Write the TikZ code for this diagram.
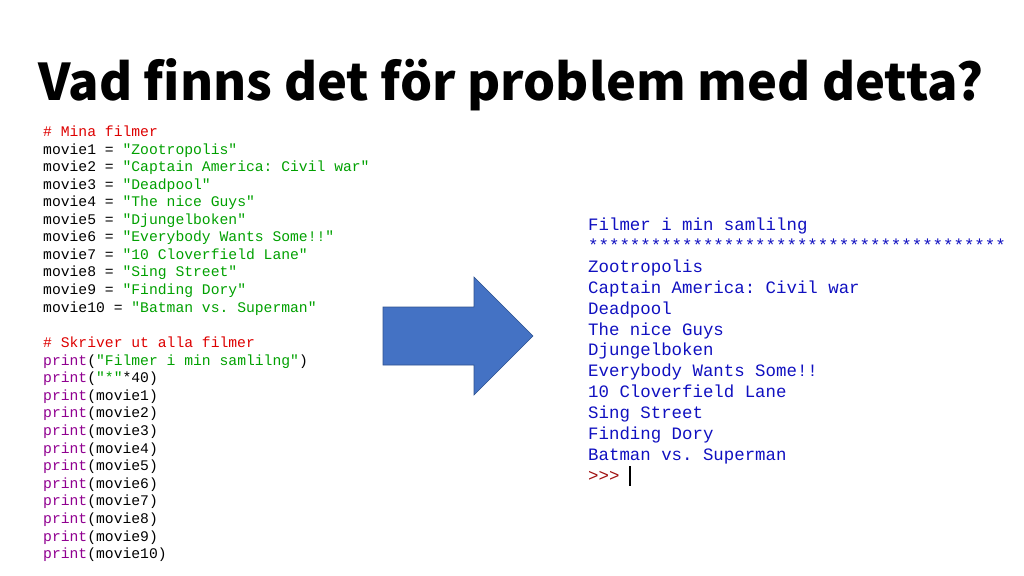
\documentclass[tikz,border=0pt]{standalone}
\usepackage{fontspec}
\setmonofont{Liberation Mono}
\newfontfamily\titlefont{Noto Sans CJK JP}
\definecolor{cmt}{HTML}{DD0000}
\definecolor{str}{HTML}{00A000}
\definecolor{kw}{HTML}{900090}
\definecolor{outc}{HTML}{1010C0}
\definecolor{prm}{HTML}{A01010}
\definecolor{arrfill}{HTML}{4472C4}
\definecolor{arrline}{HTML}{2F528F}
\tikzset{
  codeline/.style={anchor=base west, inner sep=0pt, font=\ttfamily\fontsize{14.7bp}{17bp}\selectfont},
  outline/.style={anchor=base west, inner sep=0pt, text=outc, font=\ttfamily\fontsize{17.4bp}{20bp}\selectfont},
  bigarrow/.style={fill=arrfill, draw=arrline, line width=0.6bp, line join=miter},
}
\begin{document}
\begin{tikzpicture}[x=1bp,y=-1bp]
\useasboundingbox (0,0) rectangle (1024,576);
\node[anchor=base west, inner sep=0pt, font=\titlefont\bfseries\fontsize{55bp}{60bp}\selectfont] (title) at (38,101) {\resizebox{945bp}{!}{Vad finns det för problem med detta?}};
% code block 1
\node[codeline, text=cmt] (c0) at (43,137) {\# Mina filmer};
\node[codeline] (c1) at (43,154.5) {movie1 = \textcolor{str}{"Zootropolis"}};
\node[codeline] (c2) at (43,172) {movie2 = \textcolor{str}{"Captain America: Civil war"}};
\node[codeline] (c3) at (43,189.5) {movie3 = \textcolor{str}{"Deadpool"}};
\node[codeline] (c4) at (43,207) {movie4 = \textcolor{str}{"The nice Guys"}};
\node[codeline] (c5) at (43,224.5) {movie5 = \textcolor{str}{"Djungelboken"}};
\node[codeline] (c6) at (43,242) {movie6 = \textcolor{str}{"Everybody Wants Some!!"}};
\node[codeline] (c7) at (43,259.5) {movie7 = \textcolor{str}{"10 Cloverfield Lane"}};
\node[codeline] (c8) at (43,277) {movie8 = \textcolor{str}{"Sing Street"}};
\node[codeline] (c9) at (43,294.5) {movie9 = \textcolor{str}{"Finding Dory"}};
\node[codeline] (c10) at (43,312) {movie10 = \textcolor{str}{"Batman vs. Superman"}};
% code block 2
\node[codeline, text=cmt] (p0) at (43,347.5) {\# Skriver ut alla filmer};
\node[codeline] (p1) at (43,365.1) {\textcolor{kw}{print}(\textcolor{str}{"Filmer i min samlilng"})};
\node[codeline] (p2) at (43,382.7) {\textcolor{kw}{print}(\textcolor{str}{"*"}*40)};
\node[codeline] (p3) at (43,400.3) {\textcolor{kw}{print}(movie1)};
\node[codeline] (p4) at (43,417.9) {\textcolor{kw}{print}(movie2)};
\node[codeline] (p5) at (43,435.5) {\textcolor{kw}{print}(movie3)};
\node[codeline] (p6) at (43,453.1) {\textcolor{kw}{print}(movie4)};
\node[codeline] (p7) at (43,470.7) {\textcolor{kw}{print}(movie5)};
\node[codeline] (p8) at (43,488.3) {\textcolor{kw}{print}(movie6)};
\node[codeline] (p9) at (43,505.9) {\textcolor{kw}{print}(movie7)};
\node[codeline] (p10) at (43,523.5) {\textcolor{kw}{print}(movie8)};
\node[codeline] (p11) at (43,541.1) {\textcolor{kw}{print}(movie9)};
\node[codeline] (p12) at (43,558.7) {\textcolor{kw}{print}(movie10)};
% arrow
\filldraw[bigarrow] (383,307) -- (474,307) -- (474,277) -- (533,336) -- (474,395) -- (474,365) -- (383,365) -- cycle;
% output block
\node[outline] (o0) at (588,230.5) {Filmer i min samlilng};
\node[outline] (o1) at (588,251.4) {****************************************};
\node[outline] (o2) at (588,272.3) {Zootropolis};
\node[outline] (o3) at (588,293.2) {Captain America: Civil war};
\node[outline] (o4) at (588,314.1) {Deadpool};
\node[outline] (o5) at (588,335) {The nice Guys};
\node[outline] (o6) at (588,355.9) {Djungelboken};
\node[outline] (o7) at (588,376.8) {Everybody Wants Some!!};
\node[outline] (o8) at (588,397.7) {10 Cloverfield Lane};
\node[outline] (o9) at (588,418.6) {Sing Street};
\node[outline] (o10) at (588,439.5) {Finding Dory};
\node[outline] (o11) at (588,460.4) {Batman vs. Superman};
\node[outline, text=prm] (o12) at (588,481.3) {>{}>{}>};
\draw[line width=2bp, black] (629.5,466) -- (629.5,486);
\end{tikzpicture}
\end{document}
